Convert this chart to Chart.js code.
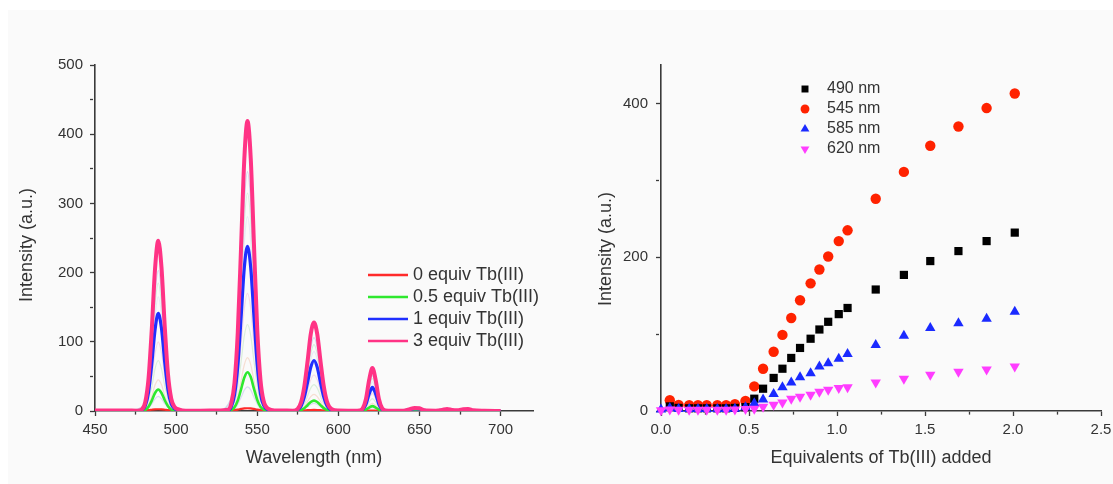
<!DOCTYPE html>
<html>
<head>
<meta charset="utf-8">
<script src="https://cdn.jsdelivr.net/npm/chart.js@4.4.1/dist/chart.umd.min.js"></script>
<style>
  body { margin: 0; background: #fff; overflow: hidden; width: 1113px; height: 484px; position: relative; }
  #panel { position: absolute; left: 8px; top: 10px; right: 0; bottom: 0; background: #fafafa; }
  #left { position: absolute; left: 0; top: 0; }
  #right { position: absolute; left: 556px; top: 0; }
</style>
</head>
<body>
<div id="panel"></div>
<canvas id="left" width="556" height="484"></canvas>
<canvas id="right" width="570" height="484"></canvas>
<script>
// left panel: emission spectra
const wavelengths = [450, 460, 470,
  476, 479, 481, 483, 485, 487, 489, 491, 493, 495, 497, 499, 502, 506,
  515, 525,
  532, 534, 536, 538, 540, 542, 544, 546, 548, 550, 552, 554, 557, 561,
  566,
  572, 575, 577, 579, 581, 583, 585, 587, 589, 591, 593, 596, 600,
  606,
  610, 613, 615, 617, 619, 621, 623, 625, 627, 629, 633,
  640, 644, 647, 650, 653, 660, 664, 667, 670, 674, 677, 680, 683, 690, 700];

const equiv0 = [0.5, 0.5, 0.5,
  0.5, 0.6, 0.8, 1.2, 1.8, 2.3, 2.5, 2.3, 1.8, 1.2, 0.8, 0.6, 0.5, 0.4,
  0.4, 0.4,
  0.5, 0.7, 1.2, 2, 3, 3.8, 4, 3.8, 3, 2, 1.2, 0.7, 0.5, 0.4,
  0.4,
  0.4, 0.5, 0.7, 0.9, 1.2, 1.4, 1.5, 1.4, 1.2, 0.9, 0.7, 0.5, 0.4,
  0.4,
  0.3, 0.3, 0.4, 0.5, 0.6, 0.7, 0.6, 0.5, 0.4, 0.3, 0.3,
  0.3, 0.4, 0.5, 0.5, 0.3, 0.3, 0.3, 0.4, 0.3, 0.3, 0.3, 0.4, 0.3, 0.2, 0.1];

const equiv05 = [0.4, 0.4, 0.4,
  0.2, 0.4, 1.6, 6, 15, 26, 31, 26, 15.5, 7, 2.2, 0.8, 0.3, 0.1,
  0.2, 0.3,
  0.3, 1.5, 5.5, 15, 31, 48, 56, 49, 32, 16, 6, 2, 0.4, 0.2,
  0.2,
  0.1, 0.4, 1.5, 4, 8.4, 13, 15, 13, 8.5, 4.2, 1.6, 0.3, 0.1,
  0.1,
  0.1, 0.1, 0.4, 2, 5, 7, 5, 2, 0.4, 0.1, 0.1,
  0.1, 0.5, 1, 0.8, 0.2, 0.1, 0.3, 0.5, 0.3, 0.2, 0.4, 0.5, 0.2, 0.1, 0];

const equiv1 = [0.6, 0.6, 0.5,
  0.3, 1.5, 7.5, 27, 68, 117, 141, 119, 70, 30, 10, 3.5, 1, 0.3,
  0.4, 0.6,
  1, 6, 23, 64, 133, 206, 238, 207, 136, 67, 25, 8, 1.5, 0.5,
  0.4,
  0.3, 2, 7, 20, 41, 63, 73, 63, 41, 20.5, 7.5, 1.3, 0.4,
  0.3,
  0.3, 0.5, 2, 9.5, 24.7, 34, 24.7, 9.6, 2.2, 0.5, 0.3,
  0.3, 2, 3.5, 3, 0.8, 0.3, 1, 2, 1, 0.7, 1.5, 2, 0.7, 0.2, 0];

const equiv3 = [0.8, 0.8, 0.7,
  0.5, 2.5, 13, 47, 118, 205, 246, 207, 122, 53, 18, 6, 2, 0.5,
  0.5, 0.8,
  2, 11, 41, 113, 234, 362, 419, 365, 240, 118, 45, 14, 3, 0.8,
  0.6,
  0.5, 3.3, 12.4, 35, 71, 111, 128, 111, 72, 36, 13.5, 2.5, 0.6,
  0.5,
  0.5, 0.8, 3.5, 17, 45, 62, 45, 17.5, 4, 0.8, 0.4,
  0.5, 2.5, 4.5, 4, 1, 0.5, 1.5, 3, 1.5, 1, 2.5, 3, 1, 0.3, 0];

// the faint intermediate titration spectra (no legend entry)
const faintWavelengths = [470, 481, 485, 487, 489, 491, 493, 497, 506, 525,
  536, 540, 542, 544, 546, 548, 552, 561, 572,
  579, 583, 585, 587, 591, 600, 612,
  617, 619, 621, 623, 625, 633, 700];
const faintA = [0.5, 10.8, 97, 169, 203, 171, 102, 15, 0.5, 0.5, 34, 193, 299, 346, 301, 198, 37, 0.5, 0.5,
  29, 92, 106, 92, 30, 0.5, 0.5, 14, 37, 51, 37, 14.4, 0.3, 0];
const faintB = [0.5, 9.8, 89, 154, 185, 155, 93, 13.5, 0.5, 0.5, 31, 176, 272, 315, 274, 180, 34, 0.5, 0.5,
  26, 83, 96, 83, 27, 0.5, 0.5, 12.9, 34, 47, 34, 13.3, 0.3, 0];
const faintC = [0.5, 8.7, 79, 137, 165, 139, 83, 12, 0.5, 0.5, 27.5, 157, 243, 281, 244, 161, 30, 0.5, 0.5,
  23.5, 74.5, 86, 74.5, 24, 0.5, 0.5, 11.5, 30.5, 42, 30.5, 11.8, 0.3, 0];
const faintD = [0.4, 5.3, 48, 83, 100, 84, 50, 7.3, 0.4, 0.4, 16.7, 95, 147, 170, 148, 97, 18, 0.4, 0.4,
  14.2, 45, 52, 45, 14.6, 0.4, 0.4, 6.9, 18, 25, 18, 7, 0.3, 0];
const faintE = [0.4, 3.9, 35, 61, 73, 61, 36.5, 5.3, 0.4, 0.4, 12.3, 70, 108, 125, 109, 72, 13.4, 0.4, 0.4,
  10.4, 33, 38, 33, 10.6, 0.4, 0.4, 4.9, 13, 18, 13, 5, 0.3, 0];
const faintF = [0.3, 2.4, 21.6, 37.5, 45, 37.8, 22.5, 3.3, 0.3, 0.3, 7.5, 43, 66.5, 77, 67, 44, 8.2, 0.3, 0.3,
  6.6, 20.8, 24, 20.8, 6.7, 0.3, 0.3, 3, 8, 11, 8, 3.1, 0.2, 0];
const faintG = [0.3, 1.1, 10, 17.5, 21, 17.6, 10.5, 1.5, 0.3, 0.3, 3.4, 19.5, 30, 35, 30.5, 20, 3.7, 0.3, 0.3,
  3, 9.5, 11, 9.5, 3.1, 0.3, 0.3, 1.4, 3.6, 5, 3.6, 1.4, 0.2, 0];

// right panel: titration
const equivAdded = [0, 0.05, 0.10, 0.16, 0.21, 0.26, 0.32, 0.37, 0.42, 0.48,
  0.53, 0.58, 0.64, 0.69, 0.74, 0.79, 0.85, 0.90, 0.95, 1.01, 1.06,
  1.22, 1.38, 1.53, 1.69, 1.85, 2.01];
const nm490 = [null, 6, 4, 3.5, 3.5, 3.5, 3.5, 3.5, 4, 5,
  16, 29, 43, 55, 69, 82, 94, 106, 116, 126, 134,
  158, 177, 195, 208, 221, 232];
const nm545 = [null, 14, 8, 7.5, 7.5, 7.5, 7.5, 7.5, 9, 13,
  32, 55, 77, 99, 121, 144, 166, 184, 201, 221, 235,
  276, 311, 345, 370, 394, 413];
const nm585 = [2, 4, 2.5, 2.5, 2.5, 2.5, 2.5, 2.5, 3, 5,
  10, 15, 22, 31, 37, 44, 49, 58, 62, 68, 74,
  86, 98, 108, 114, 120, 129];
const nm620 = [1, 2, 1.5, 1.5, 1.5, 1.5, 1.5, 1.5, 2, 2.5,
  3, 5.5, 8, 11, 16, 18.5, 21, 25, 27.5, 30, 31,
  37, 42, 47, 51, 54, 58];

const axisColor = '#3a3a3a';
const textColor = '#333';
Chart.defaults.font.family = '"Liberation Sans", Arial, sans-serif';
Chart.defaults.color = textColor;

// legend drawn inside the plot area, plus the vertical axis title
const insideLegend = {
  id: 'insideLegend',
  afterDraw(chart, args, o) {
    const ctx = chart.ctx;
    ctx.save();
    ctx.font = o.font;
    ctx.textBaseline = 'middle';
    ctx.textAlign = 'left';
    chart.data.datasets.forEach((ds, i) => {
      if (!ds.label) return;
      const y = o.y + i * o.gap;
      if (o.markers) {
        ctx.fillStyle = ds.pointBackgroundColor;
        Chart.helpers.drawPoint(ctx, {
          pointStyle: ds.pointStyle, rotation: ds.pointRotation || 0,
          radius: ds.pointRadius * 0.85, borderWidth: 0
        }, o.x, y);
      } else {
        ctx.strokeStyle = ds.borderColor;
        ctx.lineWidth = 2.5;
        ctx.beginPath();
        ctx.moveTo(o.x, y);
        ctx.lineTo(o.x + o.len, y);
        ctx.stroke();
      }
      ctx.fillStyle = textColor;
      ctx.fillText(ds.label, o.textX, y);
    });
    ctx.font = '18px "Liberation Sans", Arial, sans-serif';
    ctx.textAlign = 'center';
    ctx.translate(o.titleX, o.titleY);
    ctx.rotate(-Math.PI / 2);
    ctx.fillText(o.yTitle, 0, 0);
    ctx.restore();
  }
};

function axis(min, max, title, ticks, isMajor, size) {
  return {
    type: 'linear', min, max,
    ticks: Object.assign({ includeBounds: false, autoSkip: false, maxRotation: 0, font: { size: 15 }, color: textColor }, ticks),
    grid: {
      drawOnChartArea: false, tickLength: 5, tickColor: axisColor, tickWidth: 1.3,
      tickBorderDash: c => (c.tick && !isMajor(c.tick.value)) ? [3, 10] : []
    },
    border: { color: axisColor, width: 1.6 },
    title: title ? { display: true, text: title, font: { size: 18 }, color: textColor, padding: { top: 0, bottom: 15 } } : { display: false },
    afterFit: s => { if (s.isHorizontal()) s.height = size; else s.width = size; }
  };
}

function spectrum(label, xs, values, color, width, order) {
  return {
    label, order,
    data: xs.map((w, i) => ({ x: w, y: values[i] })),
    borderColor: color, borderWidth: width,
    pointRadius: 0, fill: false,
    cubicInterpolationMode: 'monotone'
  };
}

new Chart(document.getElementById('left'), {
  type: 'line',
  data: {
    datasets: [
      spectrum('0 equiv Tb(III)', wavelengths, equiv0, '#ff2a2a', 2.2, 3),
      spectrum('0.5 equiv Tb(III)', wavelengths, equiv05, '#2ee82e', 2.6, 2),
      spectrum('1 equiv Tb(III)', wavelengths, equiv1, '#1f2fff', 3.2, 1),
      spectrum('3 equiv Tb(III)', wavelengths, equiv3, '#ff3385', 4, 0),
      spectrum('', faintWavelengths, faintA, 'rgba(200,205,235,0.8)', 1.2, 10),
      spectrum('', faintWavelengths, faintB, 'rgba(205,235,215,0.8)', 1.2, 10),
      spectrum('', faintWavelengths, faintC, 'rgba(225,230,245,0.8)', 1.2, 10),
      spectrum('', faintWavelengths, faintD, 'rgba(245,210,225,0.8)', 1.2, 10),
      spectrum('', faintWavelengths, faintE, 'rgba(210,235,210,0.8)', 1.2, 10),
      spectrum('', faintWavelengths, faintF, 'rgba(245,215,200,0.8)', 1.2, 10),
      spectrum('', faintWavelengths, faintG, 'rgba(210,210,240,0.8)', 1.2, 10)
    ]
  },
  options: {
    responsive: false, animation: false,
    layout: { padding: { left: 0, right: 23, top: 65, bottom: 0 } },
    plugins: {
      legend: { display: false }, tooltip: { enabled: false },
      insideLegend: { font: '18px "Liberation Sans", Arial, sans-serif', x: 368, len: 40, textX: 413, y: 275, gap: 22,
        yTitle: 'Intensity (a.u.)', titleX: 27, titleY: 245 }
    },
    scales: {
      x: axis(450, 720, 'Wavelength (nm)',
        { stepSize: 25, padding: 5, callback: v => v % 50 === 0 ? v : '' },
        v => v % 50 === 0, 73),
      y: axis(0, 500, null,
        { stepSize: 50, padding: 7, callback: v => v % 100 === 0 ? v : '' },
        v => v % 100 === 0, 95)
    }
  },
  plugins: [insideLegend]
});

function series(label, values, color, style, radius, rotation, order) {
  return {
    label, order,
    data: equivAdded.map((x, i) => ({ x, y: values[i] })),
    pointStyle: style, pointRadius: radius, pointRotation: rotation,
    pointBackgroundColor: color, pointBorderWidth: 0, backgroundColor: color,
    showLine: false, clip: false
  };
}

new Chart(document.getElementById('right'), {
  type: 'scatter',
  data: {
    datasets: [
      series('490 nm', nm490, '#000000', 'rect', 5.8, 0, 2),
      series('545 nm', nm545, '#ff2200', 'circle', 5.2, 0, 3),
      series('585 nm', nm585, '#1a2aff', 'triangle', 6, 0, 1),
      series('620 nm', nm620, '#ff3dff', 'triangle', 6, 180, 0)
    ]
  },
  options: {
    responsive: false, animation: false,
    layout: { padding: { left: 0, right: 25, top: 65, bottom: 0 } },
    plugins: {
      legend: { display: false }, tooltip: { enabled: false },
      insideLegend: { markers: true, font: '16px "Liberation Sans", Arial, sans-serif', x: 249, textX: 271, y: 89, gap: 20,
        yTitle: 'Intensity (a.u.)', titleX: 50, titleY: 249 }
    },
    scales: {
      x: axis(0, 2.5, 'Equivalents of Tb(III) added',
        { stepSize: 0.25, padding: 5, callback: v => Math.round(v * 4) % 2 === 0 ? v.toFixed(1) : '' },
        v => Math.round(v * 4) % 2 === 0, 73),
      y: axis(0, 450, null,
        { stepSize: 100, padding: 8, callback: v => v % 200 === 0 ? v : '' },
        v => v % 200 === 0, 105)
    }
  },
  plugins: [insideLegend]
});
</script>
</body>
</html>
